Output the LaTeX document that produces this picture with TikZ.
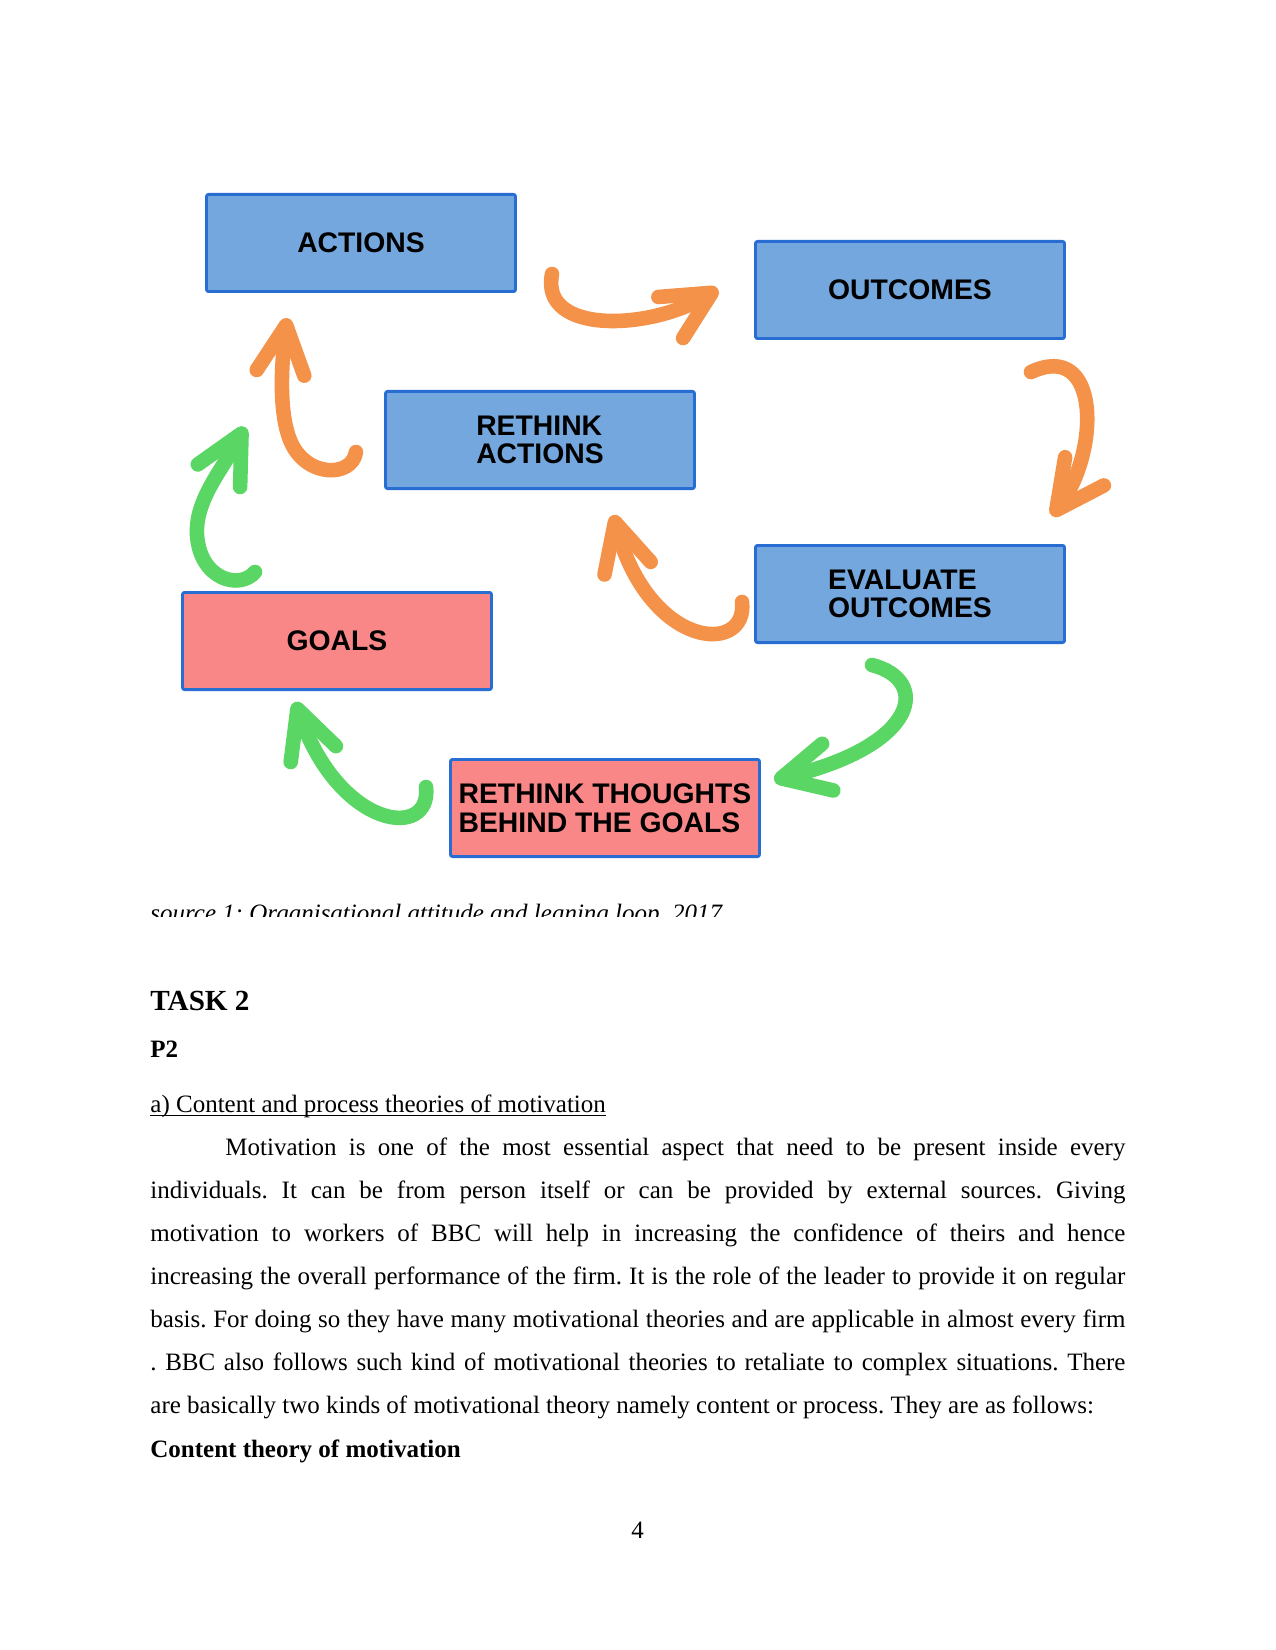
\documentclass[tikz,border=0pt]{standalone}
\usepackage{fontspec}
\setmainfont{Liberation Serif}
\newfontfamily\boxfont{Liberation Sans}
\usetikzlibrary{arrows.meta}
\definecolor{boxblue}{HTML}{74A7DE}
\definecolor{boxred}{HTML}{F98787}
\definecolor{boxedge}{HTML}{286ED2}
\definecolor{arrorange}{HTML}{F39248}
\definecolor{arrgreen}{HTML}{5AD664}
\frenchspacing
\begin{document}
\begin{tikzpicture}[x=0.48pt,y=-0.48pt,
  stage/.style={draw=boxedge, line width=1.4pt, rounded corners=1pt,
    minimum width=148.3pt, minimum height=46.6pt, inner sep=0pt,
    font=\boxfont\bfseries\fontsize{13.6}{13.8}\selectfont, align=left, text=black},
  bluebox/.style={stage, fill=boxblue},
  redbox/.style={stage, fill=boxred},
  looparrow/.style={line width=7pt, line cap=round,
    -{Straight Barb[length=23pt,width=23pt,round]}},
  orangearrow/.style={looparrow, draw=arrorange},
  greenarrow/.style={looparrow, draw=arrgreen},
  body/.style={anchor=base west, inner sep=0pt, font=\fontsize{12}{14}\selectfont},
]
\useasboundingbox (0,0) rectangle (1275,1650);
\fill[white] (0,0) rectangle (1275,1650);

% boxes
\node[bluebox] (actions)  at (361,243) {ACTIONS};
\node[bluebox] (outcomes) at (910,290) {OUTCOMES};
\node[bluebox] (rethinka) at (540,440) {RETHINK\\ACTIONS};
\node[bluebox] (evaluate) at (910,594) {EVALUATE\\OUTCOMES};
\node[redbox]  (goals)    at (337,641) {GOALS};
\node[redbox]  (rethinkg) at (605,808) {RETHINK THOUGHTS\\BEHIND THE GOALS};

% arrow end points
\coordinate (a1s) at (552,274);  \coordinate (a1e) at (718,289);
\coordinate (a2s) at (1031,372); \coordinate (a2e) at (1052,516);
\coordinate (a3s) at (742,602);  \coordinate (a3e) at (613,515);
\coordinate (a4s) at (356,452);  \coordinate (a4m) at (290,440); \coordinate (a4e) at (287,318);
\coordinate (a5s) at (255,572);  \coordinate (a5m) at (197,535); \coordinate (a5e) at (245,427);
\coordinate (a6s) at (872,665);  \coordinate (a6e) at (774,780);
\coordinate (a7s) at (426,787);  \coordinate (a7e) at (295,702);

% arrows
\draw[orangearrow] (a1s) .. controls (540,335) and (650,330) .. (a1e);
\draw[orangearrow] (a2s) .. controls (1100,340) and (1100,450) .. (a2e);
\draw[orangearrow] (a3s) .. controls (748,655) and (650,650) .. (a3e);
\draw[orangearrow] (a4s) .. controls (352,478) and (305,478) .. (a4m)
                         .. controls (278,410) and (282,360) .. (a4e);
\draw[greenarrow] (a5s) .. controls (240,590) and (200,580) .. (a5m)
                        .. controls (195,500) and (222,470) .. (a5e);
\draw[greenarrow] (a6s) .. controls (930,680) and (920,745) .. (a6e);
\draw[greenarrow] (a7s) .. controls (432,840) and (340,830) .. (a7e);

% caption (cut off)
\begin{scope}
\clip (0,0) rectangle (1275,916);
\node[body, font=\itshape\fontsize{12}{14}\selectfont] (cap) at (150,921)
  {source 1: Organisational attitude and leaning loop, 2017};
\end{scope}

% text
\node[body, font=\bfseries\fontsize{14}{16}\selectfont] (task) at (150,1010) {TASK 2};
\node[body, font=\bfseries\fontsize{12}{14}\selectfont] (p2) at (150,1057) {P2};
\node[body] (head) at (150,1112) {a) Content and process theories of motivation};
\draw[line width=0.6pt] ([yshift=-1.6pt]head.base west) -- ([yshift=-1.6pt]head.base east);
\node[body] (l1) at (225,1155) {\makebox[432pt][s]{Motivation is one of the most essential aspect that need to be present inside every}};
\node[body] (l2) at (150,1198) {\makebox[468pt][s]{individuals. It can be from person itself or can be provided by external sources. Giving}};
\node[body] (l3) at (150,1241) {\makebox[468pt][s]{motivation to workers of BBC will help in increasing the confidence of theirs and hence}};
\node[body] (l4) at (150,1284) {\makebox[468pt][s]{increasing the overall performance of the firm. It is the role of the leader to provide it on regular}};
\node[body] (l5) at (150,1327) {\makebox[468pt][s]{basis. For doing so they have many motivational theories and are applicable in almost every firm}};
\node[body] (l6) at (150,1370) {\makebox[468pt][s]{. BBC also follows such kind of motivational theories to retaliate to complex situations. There}};
\node[body] (l7) at (150,1413) {are basically two kinds of motivational theory namely content or process. They are as follows:};
\node[body, font=\bfseries\fontsize{12}{14}\selectfont] (l8) at (150,1457) {Content theory of motivation};
\node[anchor=base, inner sep=0pt, font=\fontsize{12}{14}\selectfont] (pageno) at (637.5,1538) {4};
\end{tikzpicture}
\end{document}
